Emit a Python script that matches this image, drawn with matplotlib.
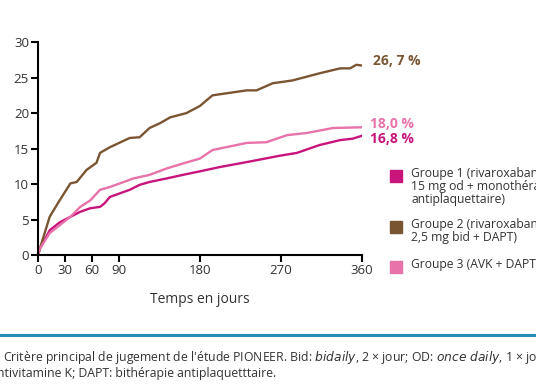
import numpy as np
import matplotlib.pyplot as plt

plt.rcParams['font.family'] = ['Open Sans', 'DejaVu Sans']

# (days, cumulative %)
days_g1 = [0, 2, 13, 24, 36, 47, 58, 69, 74, 80, 91, 102, 113, 124, 143, 161, 180,
           202, 232, 269, 288, 313, 336, 350, 360]
g1 = [0, 0.9, 3.5, 4.6, 5.4, 6.1, 6.6, 6.8, 7.3, 8.2, 8.7, 9.2, 9.9, 10.3, 10.8, 11.3, 11.8,
      12.4, 13.1, 14.0, 14.4, 15.5, 16.2, 16.4, 16.8]

days_g2 = [0, 2, 13, 24, 36, 43, 54, 65, 69, 80, 102, 113, 124, 136, 147, 165, 180,
           194, 232, 243, 261, 283, 313, 336, 347, 354, 360]
g2 = [0, 0.9, 5.4, 7.7, 10.1, 10.3, 12.0, 13.0, 14.4, 15.2, 16.5, 16.6, 17.9, 18.6, 19.4,
      20.0, 21.0, 22.5, 23.2, 23.2, 24.2, 24.6, 25.6, 26.3, 26.3, 26.8, 26.7]

days_g3 = [0, 2, 13, 24, 36, 47, 58, 69, 80, 91, 106, 124, 143, 161, 180, 194, 232,
           254, 277, 299, 328, 360]
g3 = [0, 0.9, 3.1, 4.2, 5.4, 6.8, 7.7, 9.2, 9.6, 10.1, 10.8, 11.3, 12.2, 12.9, 13.6, 14.8,
      15.8, 15.9, 16.9, 17.2, 17.9, 18.0]

xticks = [0, 30, 60, 90, 180, 270, 360]
yticks = [0, 5, 10, 15, 20, 25, 30]
end_labels = ['26, 7 %', '18,0 %', '16,8 %']
legend_labels = ['Groupe 1 (rivaroxaban\n15 mg od + monothérapie\nantiplaquettaire)',
                 'Groupe 2 (rivaroxaban\n2,5 mg bid + DAPT)',
                 'Groupe 3 (AVK + DAPT)']

c1 = '#c8157c'
c2 = '#7a5532'
c3 = '#e872aa'
txt = '#333333'

fig = plt.figure(figsize=(5.36, 3.86), dpi=100)
ax = fig.add_axes([0.0709, 0.339, 0.604, 0.552])

ax.plot(days_g1, g1, color=c1, lw=1.7, solid_joinstyle='round')
ax.plot(days_g2, g2, color=c2, lw=1.7, solid_joinstyle='round')
ax.plot(days_g3, g3, color=c3, lw=1.7, solid_joinstyle='round')

ax.set_xlim(0, 360)
ax.set_ylim(0, 30)
ax.set_xticks(xticks)
ax.set_yticks(yticks)
for s in ['top', 'right']:
    ax.spines[s].set_visible(False)
for s in ['left', 'bottom']:
    ax.spines[s].set_linewidth(1.5)
ax.tick_params(width=1.5, length=5, labelsize=9.5, colors='black', labelcolor=txt, pad=1.5)
ax.set_xlabel('Temps en jours', fontsize=10, color=txt, labelpad=11)

# end-of-curve labels
ax.text(372, g2[-1] + 0.6, end_labels[0], color=c2, fontsize=10, fontweight='bold',
        va='center', clip_on=False)
ax.text(369, g3[-1] + 0.5, end_labels[1], color=c3, fontsize=10, fontweight='bold',
        va='center', clip_on=False)
ax.text(369, g1[-1] - 0.4, end_labels[2], color=c1, fontsize=10, fontweight='bold',
        va='center', clip_on=False)

# legend drawn by hand so it runs off the right edge like the original
leg_y = [176, 227, 267]
for lab, col, yy in zip(legend_labels, [c1, c2, c3], leg_y):
    fig.patches.append(plt.Rectangle((390 / 536, 1 - (yy + 6) / 386), 12 / 536, 12 / 386,
                                     transform=fig.transFigure, color=col))
    fig.text(411 / 536, 1 - (yy - 9) / 386, lab, fontsize=8.7, color=txt, va='top',
             linespacing=1.0)

# caption rule and text
fig.add_artist(plt.Line2D([0, 1], [1 - 335 / 386] * 2, color='#2a8ab8', lw=2.2,
                          transform=fig.transFigure))
fig.text(0.0, 1 - 357 / 386,
         ' Critère principal de jugement de l\'étude PIONEER. Bid: $\\it{bidaily}$, 2 × jour; '
         'OD: $\\it{once\\ daily}$, 1 × jour',
         fontsize=8.8, color=txt, va='center')
fig.text(-0.005, 1 - 374 / 386, 'ntivitamine K; DAPT: bithérapie antiplaquetttaire.',
         fontsize=8.8, color=txt, va='center')

fig.savefig('out.png', dpi=100)
